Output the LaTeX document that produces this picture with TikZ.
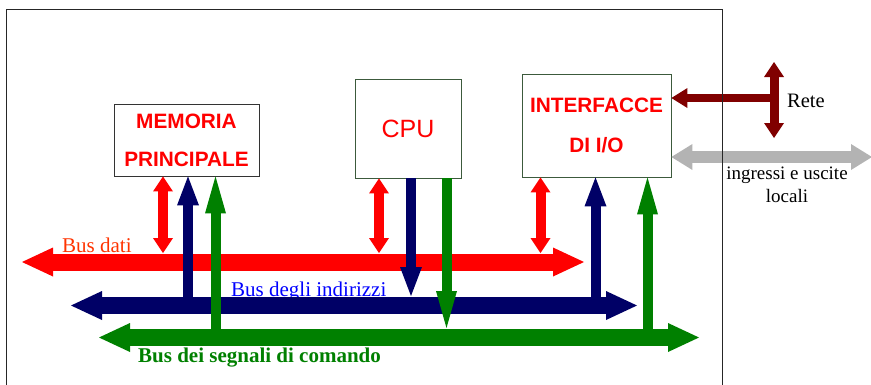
\documentclass[tikz,border=0pt]{standalone}
\usepackage{fontspec}
\setmainfont{Liberation Serif}
\setsansfont{Liberation Sans}
\usepackage{xcolor}
\usepackage{tikz}
\usetikzlibrary{arrows.meta}

\definecolor{busred}{RGB}{255,0,0}
\definecolor{busnavy}{RGB}{0,0,102}
\definecolor{busgreen}{RGB}{0,128,0}
\definecolor{netred}{RGB}{128,0,0}
\definecolor{localgray}{RGB}{179,179,179}
\definecolor{datilabel}{RGB}{255,51,0}
\definecolor{boxedge}{RGB}{60,90,60}

\begin{document}
\begin{tikzpicture}[
        x=1pt, y=-1pt,
        block/.style={rectangle, draw=boxedge, line width=0.8pt, inner sep=0pt, align=center, text=busred},
        boxtext/.style={font=\sffamily\bfseries\fontsize{20.8}{38}\selectfont},
        buslabel/.style={inner sep=0pt, font=\fontsize{21}{23}\selectfont},
        bus/.style={line width=17pt, {Triangle[length=31pt,width=29pt,line width=0pt]}-{Triangle[length=31pt,width=29pt,line width=0pt]}},
        link/.style={line width=10pt},
        datalink/.style={link, busred, {Triangle[length=15pt,width=20pt,line width=0pt]}-{Triangle[length=15pt,width=20pt,line width=0pt]}},
        addrlink/.style={link, busnavy, -{Triangle[length=29pt,width=22pt,line width=0pt]}},
        ctrllink/.style={link, busgreen, -{Triangle[length=37pt,width=21pt,line width=0pt]}},
        netlink/.style={line width=9pt, netred, {Triangle[length=15pt,width=20pt,line width=0pt]}-{Triangle[length=15pt,width=20pt,line width=0pt]}},
        netarrow/.style={line width=8pt, netred, -{Triangle[length=16pt,width=20pt,line width=0pt]}},
        locallink/.style={line width=12pt, localgray, {Triangle[length=21pt,width=26pt,line width=0pt]}-{Triangle[length=21pt,width=26pt,line width=0pt]}}
    ]
        \useasboundingbox (0,0) rectangle (871,384);

        % Nodes
        \node[block, draw=black!80, minimum width=145pt, minimum height=72pt, boxtext] (memoria) at (186.5,140) {MEMORIA\\PRINCIPALE};
        \node[block, minimum width=106pt, minimum height=99pt, font=\sffamily\fontsize{25}{30}\selectfont] (cpu) at (408,128.5) {CPU};
        \node[block, minimum width=149pt, minimum height=103pt, font=\sffamily\bfseries\fontsize{20.8}{40}\selectfont] (io) at (596.5,125.5) {INTERFACCE\\DI I/O};

        % Labels
        \node[buslabel, text=datilabel, anchor=base west] (lbldati) at (62,252) {Bus dati};
        \node[buslabel, text=blue, anchor=base west] (lblind) at (231,296) {Bus degli indirizzi};
        \node[buslabel, text=busgreen, font=\bfseries\fontsize{21}{23}\selectfont, anchor=base west] (lblcom) at (138,362) {Bus dei segnali di comando};
        \node[buslabel, font=\fontsize{20.5}{23}\selectfont, anchor=base west] (lblrete) at (787,107) {Rete};
        \node[buslabel, align=center, font=\fontsize{19}{23}\selectfont] (lblloc) at (787,184.5) {ingressi e uscite\\locali};

        % Bus ends
        \coordinate (datiW) at (22,262);
        \coordinate (datiE) at (584,262);
        \coordinate (indW) at (71,305.5);
        \coordinate (indE) at (637,305.5);
        \coordinate (comW) at (99,337.5);
        \coordinate (comE) at (699,337.5);
        \coordinate (reteN) at (774,62);
        \coordinate (reteS) at (774,138);
        \coordinate (reteJ) at (774,98);
        \coordinate (locE) at (872,157);

        % Buses
        \draw[bus, busred] (datiW) -- (datiE);
        \draw[bus, busnavy] (indW) -- (indE);
        \draw[bus, busgreen] (comW) -- (comE);

        % Arrows
        \draw[datalink, shorten >=9pt] ([xshift=-23.5pt]memoria.south) -- ([xshift=-23.5pt]memoria.south |- datiW);
        \draw[addrlink] ([xshift=1.5pt]memoria.south |- indW) -- ([xshift=1.5pt]memoria.south);
        \draw[ctrllink] ([xshift=29pt]memoria.south |- comW) -- ([xshift=29pt]memoria.south);

        \draw[datalink, shorten >=9pt] ([xshift=-29pt]cpu.south) -- ([xshift=-29pt]cpu.south |- datiW);
        \draw[addrlink, shorten >=9.5pt] ([xshift=3pt]cpu.south) -- ([xshift=3pt]cpu.south |- indW);
        \draw[ctrllink, shorten >=9.5pt] ([xshift=38.5pt]cpu.south) -- ([xshift=38.5pt]cpu.south |- comW);

        \draw[datalink, shorten >=9pt] ([xshift=-56pt]io.south) -- ([xshift=-56pt]io.south |- datiW);
        \draw[addrlink] ([xshift=-1pt]io.south |- indW) -- ([xshift=-1pt]io.south);
        \draw[ctrllink] ([xshift=51pt]io.south |- comW) -- ([xshift=51pt]io.south);

        \draw[netlink] (reteN) -- (reteS);
        \draw[netarrow] (reteJ) -- (reteJ -| io.east);
        \draw[locallink] (locE -| io.east) -- (locE);

        % Frame
        \draw[black!85, line width=1pt] (6,390) -- (6,9) -- (722.5,9) -- (722.5,390);
    \end{tikzpicture}
\end{document}
